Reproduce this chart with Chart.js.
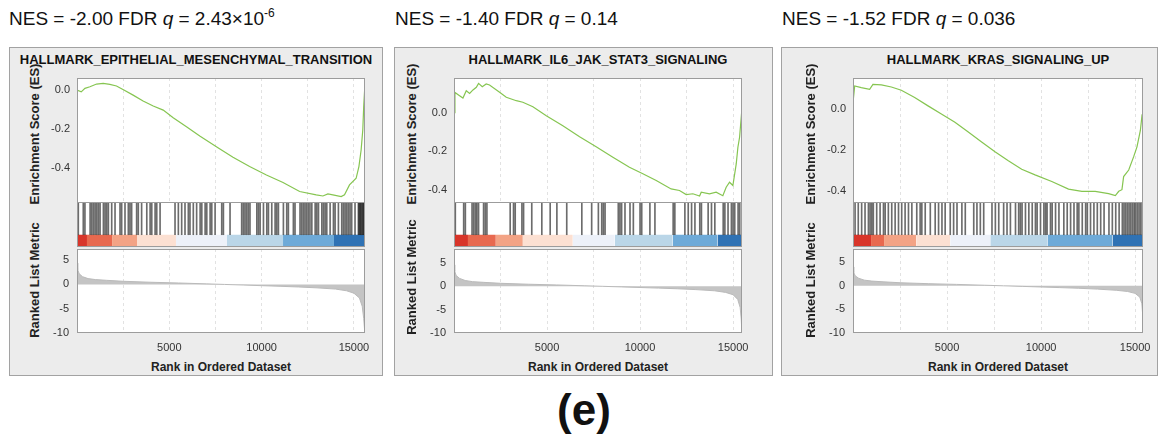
<!DOCTYPE html>
<html>
<head>
<meta charset="utf-8">
<script src="https://cdn.jsdelivr.net/npm/chart.js@4.4.0/dist/chart.umd.min.js"></script>
<style>
  body { margin: 0; width: 1163px; height: 443px; background: #fff; position: relative; overflow: hidden;
         font-family: 'Liberation Sans', Arial, sans-serif; }
  .hdr { position: absolute; top: 9px; font-size: 19px; line-height: 20px; color: #111; white-space: nowrap; }
  .hdr .sup { font-size: 12px; position: relative; top: -8px; }
  .box { position: absolute; top: 47px; height: 329px; background: #ececec; border: 1px solid #a2a2a2; box-sizing: border-box; }
  .ttl { position: absolute; top: 53px; font-weight: bold; font-size: 13px; line-height: 14px; color: #111;
         white-space: nowrap; transform: translateX(-50%); }
  .yt { position: absolute; font-weight: bold; font-size: 13px; line-height: 14px; color: #222; white-space: nowrap;
        transform: translate(-50%, -50%) rotate(-90deg); }
  .xt { position: absolute; top: 360px; font-weight: bold; font-size: 12px; line-height: 14px; color: #222;
        white-space: nowrap; transform: translateX(-50%); }
  .lbl { position: absolute; left: 584px; top: 388px; font-weight: bold; font-size: 44px; line-height: 44px;
         color: #111; transform: translateX(-50%); }
  canvas { position: absolute; }
</style>
</head>
<body>
<div class="hdr" style="left:9px">NES = -2.00 FDR <i>q</i> = 2.43×10<span class="sup">-6</span></div>
<div class="hdr" style="left:395px">NES = -1.40 FDR <i>q</i> = 0.14</div>
<div class="hdr" style="left:782px">NES = -1.52 FDR <i>q</i> = 0.036</div>
<div class="lbl">(e)</div>

<script>
// ---- data ----
const esTicks = [0, -0.2, -0.4];
const metricTicks = [5, 0, -5, -10];
const gridRanks = [2500, 5000, 7500, 10000, 12500, 15000];
const rankLabels = [5000, 10000, 15000];
const bandColors = ['#d8352a', '#e8694f', '#f3a385', '#fce0d2', '#edf1f9', '#bad6e8', '#6eaad8', '#2f72b4'];

// EMT
const emtTitle = 'HALLMARK_EPITHELIAL_MESENCHYMAL_TRANSITION';
const emtEsRank = [0, 230, 430, 700, 1060, 1420, 1780, 2140, 2540, 3040, 3580, 4130, 4670, 5210, 5930, 6650, 7550, 8450, 9350, 10260, 11160, 12060, 12960, 13320, 13590, 13860, 14310, 14490, 14760, 15120, 15270, 15390, 15480, 15530, 15580];
const emtEs = [0.0, -0.009, 0.009, 0.017, 0.031, 0.034, 0.029, 0.021, 0.0, -0.026, -0.056, -0.082, -0.103, -0.142, -0.188, -0.236, -0.291, -0.345, -0.393, -0.436, -0.475, -0.521, -0.538, -0.544, -0.533, -0.538, -0.547, -0.538, -0.487, -0.453, -0.393, -0.308, -0.205, -0.085, 0.0];
const emtHits = [70, 340, 430, 710, 800, 890, 980, 1070, 1160, 1250, 1430, 1520, 1610, 1700, 1880, 2060, 2330, 2420, 2600, 2780, 2870, 2960, 3230, 3320, 3500, 3780, 3960, 4050, 4230, 4320, 4500, 5310, 5490, 5670, 5850, 6030, 6120, 6300, 6480, 6670, 6760, 6940, 7030, 7210, 7300, 7480, 7840, 7930, 8290, 8920, 9010, 9100, 9190, 9280, 9370, 9740, 9830, 9920, 10100, 10280, 10370, 10550, 10730, 10820, 10910, 11180, 11360, 11450, 11720, 11810, 12080, 12170, 12260, 12350, 12440, 12530, 12620, 12720, 12900, 12990, 13080, 13260, 13350, 13440, 13530, 13710, 13890, 13980, 14160, 14340, 14430, 14520, 14610, 14700, 14790, 14880, 15060, 15240, 15280, 15330, 15370, 15420, 15470, 15510, 15550];
const emtBands = [0, 540, 1900, 3250, 5360, 8125, 11160, 13920, 15600];
const emtMetRank = [0, 40, 120, 300, 600, 1000, 1600, 2500, 4000, 5500, 7000, 8000, 9000, 10000, 11000, 12000, 13000, 14000, 14600, 15000, 15300, 15450, 15530, 15580];
const emtMetric = [4.4, 3.0, 2.2, 1.6, 1.2, 1.0, 0.85, 0.65, 0.45, 0.3, 0.12, 0.0, -0.12, -0.25, -0.38, -0.52, -0.7, -0.95, -1.3, -1.8, -2.8, -4.5, -7.0, -9.5];

// IL6/JAK/STAT3
const il6Title = 'HALLMARK_IL6_JAK_STAT3_SIGNALING';
const il6EsRank = [0, 50, 300, 480, 660, 840, 1020, 1200, 1320, 1520, 1730, 1910, 2450, 2810, 3350, 3700, 4240, 4960, 5850, 6750, 7640, 8540, 9430, 10150, 10870, 11670, 12120, 12480, 12840, 13200, 13290, 13730, 14090, 14450, 14630, 14810, 14990, 15170, 15260, 15350, 15460];
const il6Es = [0.0, 0.105, 0.088, 0.076, 0.114, 0.1, 0.118, 0.132, 0.152, 0.135, 0.149, 0.144, 0.106, 0.08, 0.062, 0.054, 0.031, -0.016, -0.068, -0.125, -0.177, -0.232, -0.284, -0.318, -0.353, -0.397, -0.405, -0.426, -0.422, -0.434, -0.414, -0.422, -0.414, -0.432, -0.388, -0.362, -0.379, -0.267, -0.18, -0.128, 0.0];
const il6Hits = [70, 520, 610, 970, 1060, 1150, 1230, 1320, 1590, 1680, 1770, 3020, 3200, 3290, 3650, 3740, 4180, 4720, 5170, 5530, 6060, 6870, 7400, 7760, 7940, 8030, 8120, 8830, 8920, 9010, 9190, 9460, 9640, 10000, 10090, 10530, 10800, 11780, 11870, 12410, 12590, 12770, 12950, 13210, 13300, 13660, 13840, 14020, 14470, 14560, 14730, 14910, 15000, 15090, 15270, 15360];
const il6Bands = [0, 750, 2250, 3700, 6385, 8640, 11750, 14165, 15480];
const il6MetRank = [0, 40, 120, 300, 600, 1000, 1600, 2500, 4000, 5500, 7000, 8000, 9000, 10000, 11000, 12000, 13000, 14000, 14600, 15000, 15250, 15380, 15440, 15470];
const il6Metric = [4.6, 3.2, 2.3, 1.7, 1.25, 1.0, 0.85, 0.65, 0.45, 0.3, 0.12, 0.0, -0.12, -0.25, -0.38, -0.52, -0.7, -0.95, -1.3, -1.8, -2.8, -4.5, -7.0, -9.8];

// KRAS up
const krasTitle = 'HALLMARK_KRAS_SIGNALING_UP';
const krasEsRank = [0, 90, 440, 885, 1060, 1510, 2040, 2570, 3280, 3990, 4700, 5420, 6130, 6840, 7550, 8260, 8970, 9680, 10570, 11460, 12170, 12880, 13590, 13950, 14130, 14300, 14390, 14660, 14920, 15100, 15280, 15370, 15410];
const krasEs = [0.03, 0.111, 0.103, 0.095, 0.119, 0.116, 0.106, 0.09, 0.055, 0.014, -0.026, -0.066, -0.114, -0.162, -0.21, -0.254, -0.295, -0.323, -0.355, -0.392, -0.403, -0.403, -0.414, -0.424, -0.403, -0.395, -0.331, -0.299, -0.235, -0.186, -0.106, -0.03, 0.0];
const krasHits = [110, 280, 460, 640, 820, 910, 1000, 1080, 1260, 1440, 1620, 1710, 1880, 2060, 2240, 2420, 2590, 2770, 2950, 3130, 3390, 3570, 3660, 3840, 4110, 4370, 4550, 4730, 4900, 5170, 5350, 5530, 5790, 5970, 6420, 6590, 6770, 6950, 7390, 7570, 7750, 8010, 8190, 8370, 8640, 8810, 8900, 8990, 9170, 9350, 9530, 9700, 9790, 9970, 10150, 10240, 10320, 10500, 10590, 10770, 10950, 11210, 11390, 11570, 11750, 11920, 12010, 12190, 12370, 12460, 12630, 12810, 12990, 13170, 13350, 13610, 13790, 13970, 14150, 14320, 14410, 14500, 14590, 14680, 14770, 14860, 14950, 15030, 15120, 15210, 15300, 15390];
const krasBands = [0, 960, 1650, 3360, 5170, 7300, 10340, 13800, 15420];
const krasMetRank = [0, 40, 120, 300, 600, 1000, 1600, 2500, 4000, 5500, 7000, 8000, 9000, 10000, 11000, 12000, 13000, 14000, 14600, 15000, 15250, 15360, 15400, 15420];
const krasMetric = [4.0, 2.8, 2.1, 1.6, 1.2, 1.0, 0.85, 0.65, 0.45, 0.3, 0.12, 0.0, -0.12, -0.25, -0.38, -0.52, -0.7, -0.95, -1.2, -1.6, -2.4, -3.8, -6.0, -8.0];

// ---- layout ----
const ES_TOP = 78, ES_BOT = 203, STRIP_BOT = 247, MET_TOP = 249, MET_BOT = 333;
const AXIS_W = 50;
const BAR_SPLIT = 12 / 44; // colour band height inside the hit strip

const panels = [
  { box: [9, 374], plotL: 77, plotR: 365, titleX: 196, yTitleX: 35, metTitleY: 280,
    title: emtTitle, esRank: emtEsRank, es: emtEs, hits: emtHits, bands: emtBands,
    metRank: emtMetRank, metric: emtMetric, xMax: 15600, esMin: -0.58, esMax: 0.062, metMax: 7.3 },
  { box: [394, 379], plotL: 454, plotR: 742, titleX: 598, yTitleX: 412, metTitleY: 277,
    title: il6Title, esRank: il6EsRank, es: il6Es, hits: il6Hits, bands: il6Bands,
    metRank: il6MetRank, metric: il6Metric, xMax: 15480, esMin: -0.47, esMax: 0.18, metMax: 8.0 },
  { box: [781, 377], plotL: 853, plotR: 1143, titleX: 998, yTitleX: 811, metTitleY: 280,
    title: krasTitle, esRank: krasEsRank, es: krasEs, hits: krasHits, bands: krasBands,
    metRank: krasMetRank, metric: krasMetric, xMax: 15420, esMin: -0.46, esMax: 0.15, metMax: 7.8 }
];

Chart.defaults.font.family = "'Liberation Sans', Arial, sans-serif";
Chart.defaults.font.size = 11;
Chart.defaults.color = '#333';

// white plot background + grey frame
const frame = {
  id: 'frame',
  beforeDraw(chart) {
    const { ctx, chartArea: a } = chart;
    ctx.save();
    ctx.fillStyle = '#fff';
    ctx.fillRect(a.left, a.top, a.right - a.left, a.bottom - a.top);
    ctx.restore();
  },
  afterDraw(chart) {
    const { ctx, chartArea: a } = chart;
    ctx.save();
    ctx.strokeStyle = '#9c9c9c';
    ctx.lineWidth = 1;
    ctx.strokeRect(Math.round(a.left) + 0.5, Math.round(a.top) + 0.5,
                   Math.round(a.right - a.left) - 1, Math.round(a.bottom - a.top) - 1);
    ctx.restore();
  }
};

function fixY(s) { s.width = AXIS_W; s.paddingTop = 0; s.paddingBottom = 0; }
function fixX(h) { return s => { s.height = h; s.paddingLeft = 0; s.paddingRight = 0; }; }

function addEl(cls, text, style) {
  const d = document.createElement('div');
  d.className = cls;
  d.textContent = text;
  Object.assign(d.style, style);
  document.body.appendChild(d);
}

function addCanvas(x, y, w, h) {
  const c = document.createElement('canvas');
  c.width = w; c.height = h;
  c.style.left = x + 'px'; c.style.top = y + 'px';
  c.style.width = w + 'px'; c.style.height = h + 'px';
  document.body.appendChild(c);
  return c;
}

const base = {
  responsive: false, animation: false, events: [],
  plugins: { legend: { display: false }, tooltip: { enabled: false } }
};

panels.forEach(p => {
  const w = p.plotR - p.plotL;
  const box = document.createElement('div');
  box.className = 'box';
  box.style.left = p.box[0] + 'px';
  box.style.width = p.box[1] + 'px';
  document.body.appendChild(box);

  addEl('ttl', p.title, { left: p.titleX + 'px' });
  addEl('yt', 'Enrichment Score (ES)', { left: p.yTitleX + 'px', top: '134px' });
  addEl('yt', 'Ranked List Metric', { left: p.yTitleX + 'px', top: p.metTitleY + 'px' });
  addEl('xt', 'Rank in Ordered Dataset', { left: (p.plotL + w / 2) + 'px' });

  // running enrichment score
  const esTop = 66;
  new Chart(addCanvas(p.plotL - AXIS_W, esTop, w + AXIS_W + 4, ES_BOT - esTop), {
    type: 'line',
    data: { datasets: [{
      data: p.esRank.map((r, i) => ({ x: r, y: p.es[i] })),
      borderColor: '#86c551', borderWidth: 1.2, pointRadius: 0, tension: 0
    }] },
    options: {
      ...base,
      layout: { padding: { top: ES_TOP - esTop, right: 4, left: 0, bottom: 0 } },
      scales: {
        x: { type: 'linear', min: 0, max: p.xMax,
             afterBuildTicks: s => { s.ticks = gridRanks.map(v => ({ value: v })); },
             afterFit: fixX(0), ticks: { display: false },
             grid: { color: '#e2e2e2', drawTicks: false }, border: { display: false, dash: [3, 3] } },
        y: { min: p.esMin, max: p.esMax,
             afterBuildTicks: s => { s.ticks = esTicks.map(v => ({ value: v })); },
             afterFit: fixY,
             ticks: { padding: 7, callback: v => v.toFixed(1) },
             grid: { display: false, drawTicks: false }, border: { display: false } }
      }
    },
    plugins: [frame]
  });

  // hit strip + colour band
  const bandSets = p.bands.slice(0, -1).map((s, i) => ({
    type: 'line',
    data: [{ x: s, y: BAR_SPLIT }, { x: p.bands[i + 1], y: BAR_SPLIT }],
    fill: 'start', backgroundColor: bandColors[i], borderWidth: 0, pointRadius: 0
  }));
  new Chart(addCanvas(p.plotL, ES_BOT - 1, w, STRIP_BOT - ES_BOT + 1), {
    type: 'bar',
    data: { datasets: [{
      type: 'bar',
      data: p.hits.map(r => ({ x: r, y: [BAR_SPLIT, 1] })),
      backgroundColor: 'rgba(10,10,10,0.6)', barThickness: 1, grouped: false
    }, ...bandSets] },
    options: {
      ...base,
      layout: { padding: 0 },
      scales: {
        x: { type: 'linear', display: false, min: 0, max: p.xMax, offset: false },
        y: { display: false, min: 0, max: 1 }
      }
    },
    plugins: [frame]
  });

  // ranked list metric
  new Chart(addCanvas(p.plotL - AXIS_W, MET_TOP, w + AXIS_W + 14, MET_BOT - MET_TOP + 26), {
    type: 'line',
    data: { datasets: [{
      data: p.metRank.map((r, i) => ({ x: r, y: p.metric[i] })),
      fill: 'origin', backgroundColor: '#c4c4c4', borderColor: '#bababa', borderWidth: 1,
      pointRadius: 0, tension: 0
    }] },
    options: {
      ...base,
      layout: { padding: { top: 0, right: 14, left: 0, bottom: 0 } },
      scales: {
        x: { type: 'linear', min: 0, max: p.xMax,
             afterBuildTicks: s => { s.ticks = gridRanks.map(v => ({ value: v })); },
             afterFit: fixX(26),
             ticks: { autoSkip: false, maxRotation: 0, padding: 8,
                      callback: v => rankLabels.includes(v) ? String(v) : '' },
             grid: { color: '#e2e2e2', drawTicks: false }, border: { display: false, dash: [3, 3] } },
        y: { min: -10, max: p.metMax,
             afterBuildTicks: s => { s.ticks = metricTicks.map(v => ({ value: v })); },
             afterFit: fixY, ticks: { padding: 8 },
             grid: { display: false, drawTicks: false }, border: { display: false } }
      }
    },
    plugins: [frame]
  });
});
</script>
</body>
</html>
